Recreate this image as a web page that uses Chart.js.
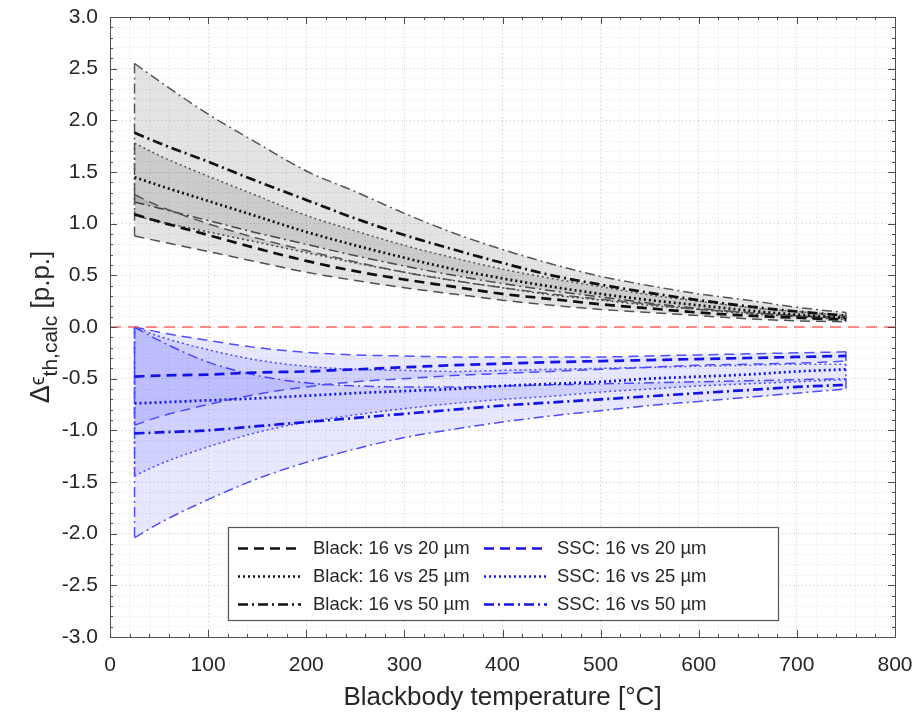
<!DOCTYPE html>
<html><head><meta charset="utf-8">
<script src="https://cdn.jsdelivr.net/npm/chart.js@4.4.1/dist/chart.umd.min.js"></script>
<style>html,body{margin:0;padding:0;background:#fff;}#wrap{width:921px;height:723px;}</style>
</head><body><div id="wrap"><canvas id="c" width="921" height="723"></canvas></div>
<script>
// ---- data ----
const temps = [25, 50, 100, 150, 200, 250, 300, 350, 400, 450, 500, 550, 600, 650, 700, 750];

const black20Mean  = [1.09, 1.02, 0.89, 0.76, 0.64, 0.54, 0.46, 0.39, 0.32, 0.27, 0.22, 0.18, 0.14, 0.11, 0.09, 0.07];
const black20Upper = [1.28, 1.17, 1.00, 0.86, 0.74, 0.63, 0.53, 0.45, 0.38, 0.32, 0.27, 0.22, 0.17, 0.14, 0.11, 0.09];
const black20Lower = [0.88, 0.83, 0.73, 0.63, 0.53, 0.45, 0.38, 0.32, 0.26, 0.21, 0.17, 0.14, 0.11, 0.08, 0.06, 0.05];

const black25Mean  = [1.45, 1.37, 1.22, 1.07, 0.92, 0.79, 0.67, 0.56, 0.47, 0.39, 0.32, 0.26, 0.21, 0.16, 0.12, 0.09];
const black25Upper = [1.78, 1.66, 1.46, 1.27, 1.08, 0.93, 0.79, 0.67, 0.56, 0.47, 0.39, 0.31, 0.25, 0.19, 0.15, 0.11];
const black25Lower = [1.08, 1.02, 0.92, 0.82, 0.72, 0.62, 0.53, 0.45, 0.38, 0.31, 0.26, 0.21, 0.17, 0.13, 0.10, 0.07];

const black50Mean  = [1.88, 1.78, 1.60, 1.41, 1.23, 1.05, 0.89, 0.75, 0.62, 0.50, 0.41, 0.33, 0.26, 0.20, 0.15, 0.11];
const black50Upper = [2.55, 2.38, 2.06, 1.78, 1.51, 1.31, 1.10, 0.91, 0.75, 0.61, 0.49, 0.40, 0.32, 0.26, 0.19, 0.14];
const black50Lower = [1.21, 1.15, 1.03, 0.91, 0.80, 0.69, 0.59, 0.50, 0.42, 0.35, 0.29, 0.23, 0.18, 0.14, 0.11, 0.08];

const ssc20Mean  = [-0.48, -0.47, -0.46, -0.44, -0.43, -0.41, -0.39, -0.37, -0.355, -0.34, -0.33, -0.32, -0.31, -0.30, -0.29, -0.28];
const ssc20Upper = [0.00, -0.05, -0.13, -0.20, -0.245, -0.27, -0.28, -0.29, -0.29, -0.29, -0.29, -0.28, -0.27, -0.26, -0.25, -0.24];
const ssc20Lower = [-0.95, -0.87, -0.75, -0.65, -0.58, -0.53, -0.50, -0.47, -0.45, -0.43, -0.41, -0.39, -0.37, -0.36, -0.35, -0.33];

const ssc25Mean  = [-0.74, -0.73, -0.71, -0.69, -0.665, -0.64, -0.62, -0.60, -0.57, -0.55, -0.53, -0.50, -0.48, -0.46, -0.43, -0.41];
const ssc25Upper = [0.00, -0.09, -0.22, -0.32, -0.38, -0.41, -0.42, -0.43, -0.42, -0.41, -0.40, -0.39, -0.38, -0.37, -0.36, -0.36];
const ssc25Lower = [-1.44, -1.33, -1.16, -1.02, -0.92, -0.85, -0.79, -0.74, -0.70, -0.67, -0.63, -0.60, -0.57, -0.55, -0.53, -0.51];

const ssc50Mean  = [-1.03, -1.02, -1.00, -0.96, -0.92, -0.88, -0.84, -0.80, -0.76, -0.73, -0.70, -0.67, -0.64, -0.61, -0.58, -0.56];
const ssc50Upper = [0.00, -0.13, -0.34, -0.47, -0.54, -0.57, -0.58, -0.58, -0.57, -0.56, -0.55, -0.54, -0.53, -0.52, -0.51, -0.50];
const ssc50Lower = [-2.04, -1.90, -1.67, -1.47, -1.31, -1.18, -1.07, -0.99, -0.92, -0.86, -0.81, -0.76, -0.72, -0.68, -0.64, -0.60];

const xRange = [0, 800];
const yRange = [-3, 3];
const xMajorStep = 100, xMinorStep = 20;
const yMajorStep = 0.5, yMinorStep = 0.1;
const referenceLine = [0, 0];

const legendLabels = ['Black: 16 vs 20 µm', 'Black: 16 vs 25 µm', 'Black: 16 vs 50 µm',
                      'SSC: 16 vs 20 µm', 'SSC: 16 vs 25 µm', 'SSC: 16 vs 50 µm'];
const xTitle = 'Blackbody temperature [°C]';

// ---- styles ----
const DASH = [10, 6], DOT = [2, 3], DASHDOT = [10, 4, 2, 4];
const FONT = '"Liberation Sans", Arial, sans-serif';
const BLACK_C = '#111111', BLACK_B = '#555555', BLACK_F = 'rgba(0,0,0,0.11)';
const BLUE_C = '#1414e6', BLUE_B = '#4f4fff', BLUE_F = 'rgba(30,30,255,0.105)';

const pts = arr => temps.map((t, i) => ({x: t, y: arr[i]}));
function centerDs(label, arr, color, dash) {
  return {label, data: pts(arr), borderColor: color, borderWidth: 2.7, borderDash: dash,
          pointRadius: 0, fill: false, cubicInterpolationMode: 'monotone'};
}
function bandDs(up, lo, color, fillColor, dash) {
  const n = temps.length - 1;
  return [
    {label: 'edge', data: [{x: temps[0], y: up[0]}, {x: temps[0], y: lo[0]}, {x: temps[n], y: null},
                         {x: temps[n], y: up[n]}, {x: temps[n], y: lo[n]}],
     borderColor: color, borderWidth: 1.5, borderDash: dash, pointRadius: 0, fill: false, spanGaps: false},
    {label: 'upper', data: pts(up), borderColor: color, borderWidth: 1.5, borderDash: dash, pointRadius: 0,
     fill: '+1', backgroundColor: fillColor, cubicInterpolationMode: 'monotone'},
    {label: 'lower', data: pts(lo), borderColor: color, borderWidth: 1.5, borderDash: dash, pointRadius: 0,
     fill: false, cubicInterpolationMode: 'monotone'}
  ];
}

const centers = [
  centerDs(legendLabels[0], black20Mean, BLACK_C, DASH),
  centerDs(legendLabels[1], black25Mean, BLACK_C, DOT),
  centerDs(legendLabels[2], black50Mean, BLACK_C, DASHDOT),
  centerDs(legendLabels[3], ssc20Mean, BLUE_C, DASH),
  centerDs(legendLabels[4], ssc25Mean, BLUE_C, DOT),
  centerDs(legendLabels[5], ssc50Mean, BLUE_C, DASHDOT)
];

const datasets = [
  {label: 'zero', data: [{x: xRange[0], y: referenceLine[0]}, {x: xRange[1], y: referenceLine[1]}],
   borderColor: 'rgba(255,80,80,0.85)', borderWidth: 1.5, borderDash: [11, 7], pointRadius: 0, fill: false},
  ...centers,
  ...bandDs(black20Upper, black20Lower, BLACK_B, BLACK_F, DASH),
  ...bandDs(black25Upper, black25Lower, BLACK_B, BLACK_F, DOT),
  ...bandDs(black50Upper, black50Lower, BLACK_B, BLACK_F, DASHDOT),
  ...bandDs(ssc20Upper, ssc20Lower, BLUE_B, BLUE_F, DASH),
  ...bandDs(ssc25Upper, ssc25Lower, BLUE_B, BLUE_F, DOT),
  ...bandDs(ssc50Upper, ssc50Lower, BLUE_B, BLUE_F, DASHDOT)
];

const isMult = (v, s) => Math.abs(v / s - Math.round(v / s)) < 1e-6;

// frame + inward ticks
const framePlugin = {
  id: 'frame',
  afterDatasetsDraw(chart) {
    const {ctx, chartArea: a, scales: {x, y}} = chart;
    ctx.save();
    ctx.setLineDash([]);
    ctx.strokeStyle = '#4d4d4d';
    ctx.lineWidth = 1;
    ctx.beginPath();
    x.ticks.forEach(t => {
      const px = Math.round(x.getPixelForValue(t.value)) + 0.5;
      const L = isMult(t.value, xMajorStep) ? 7 : 3;
      ctx.moveTo(px, a.bottom); ctx.lineTo(px, a.bottom - L);
      ctx.moveTo(px, a.top); ctx.lineTo(px, a.top + L);
    });
    y.ticks.forEach(t => {
      const py = Math.round(y.getPixelForValue(t.value)) + 0.5;
      const L = isMult(t.value, yMajorStep) ? 7 : 3;
      ctx.moveTo(a.left, py); ctx.lineTo(a.left + L, py);
      ctx.moveTo(a.right, py); ctx.lineTo(a.right - L, py);
    });
    ctx.stroke();
    ctx.strokeRect(Math.round(a.left) + 0.5, Math.round(a.top) + 0.5,
                   Math.round(a.right - a.left), Math.round(a.bottom - a.top));
    ctx.restore();
  }
};

// legend box and y-axis title
const overlayPlugin = {
  id: 'overlay',
  afterDraw(chart) {
    const {ctx, chartArea: a} = chart;
    ctx.save();
    // legend
    const bx = a.left + 118, by = a.top + 510, bw = 550, bh = 93;
    ctx.fillStyle = '#ffffff';
    ctx.fillRect(bx, by, bw, bh);
    ctx.setLineDash([]);
    ctx.strokeStyle = '#555555';
    ctx.lineWidth = 1.2;
    ctx.strokeRect(bx + 0.5, by + 0.5, bw, bh);
    ctx.font = '18.5px ' + FONT;
    ctx.fillStyle = '#262626';
    ctx.textBaseline = 'middle';
    ctx.textAlign = 'left';
    const cols = [{sx: bx + 10, tx: bx + 85}, {sx: bx + 256, tx: bx + 329}];
    centers.forEach((d, i) => {
      const c = cols[Math.floor(i / 3)];
      const ry = by + 21 + (i % 3) * 28;
      ctx.save();
      ctx.strokeStyle = d.borderColor;
      ctx.lineWidth = 2.4;
      ctx.setLineDash(d.borderDash);
      ctx.beginPath();
      ctx.moveTo(c.sx, ry + 0.5); ctx.lineTo(c.sx + 63, ry + 0.5);
      ctx.stroke();
      ctx.restore();
      ctx.fillText(d.label, c.tx, ry + 1);
    });
    // y title with subscript
    ctx.translate(41, (a.top + a.bottom) / 2);
    ctx.rotate(-Math.PI / 2);
    const parts = [
      {t: 'Δ', f: '27px ' + FONT, dy: 0},
      {t: 'ϵ', f: '20px ' + FONT, dy: -5},
      {t: 'th,calc', f: '21px ' + FONT, dy: 8},
      {t: ' [p.p.]', f: '26px ' + FONT, dy: 0}
    ];
    let total = 0;
    parts.forEach(p => { ctx.font = p.f; p.w = ctx.measureText(p.t).width; total += p.w; });
    let cx = -total / 2;
    ctx.fillStyle = '#262626';
    ctx.textBaseline = 'alphabetic';
    parts.forEach(p => { ctx.font = p.f; ctx.fillText(p.t, cx, 8 + p.dy); cx += p.w; });
    ctx.restore();
  }
};

new Chart(document.getElementById('c'), {
  type: 'line',
  data: {datasets},
  options: {
    responsive: false,
    animation: false,
    devicePixelRatio: 1,
    layout: {padding: {left: 0, top: 17, right: 26, bottom: 0}},
    plugins: {legend: {display: false}, tooltip: {enabled: false}},
    elements: {line: {borderCapStyle: 'butt'}},
    scales: {
      x: {
        type: 'linear', min: xRange[0], max: xRange[1],
        afterFit: s => { s.height = 86; s.paddingLeft = 0; s.paddingRight = 0; },
        border: {display: false, dash: [1, 3]},
        grid: {drawTicks: false, lineWidth: 1,
               color: c => isMult(c.tick.value, xMajorStep) ? 'rgba(150,150,150,0.55)' : 'rgba(170,170,170,0.35)'},
        ticks: {stepSize: xMinorStep, autoSkip: false, maxRotation: 0, padding: 16, color: '#262626',
                font: {family: FONT, size: 21},
                callback: v => isMult(v, xMajorStep) ? String(Math.round(v)) : ''},
        title: {display: true, text: xTitle, color: '#262626', font: {family: FONT, size: 26},
                padding: {top: 2, bottom: 10}}
      },
      y: {
        type: 'linear', min: yRange[0], max: yRange[1],
        afterFit: s => { s.width = 110; s.paddingTop = 0; s.paddingBottom = 0; },
        border: {display: false, dash: [1, 3]},
        grid: {drawTicks: false, lineWidth: 1,
               color: c => isMult(c.tick.value, yMajorStep) ? 'rgba(150,150,150,0.55)' : 'rgba(170,170,170,0.35)'},
        ticks: {stepSize: yMinorStep, autoSkip: false, padding: 12, color: '#262626',
                font: {family: FONT, size: 21},
                callback: v => isMult(v, yMajorStep) ? (Math.round(v * 10) / 10).toFixed(1) : ''}
      }
    }
  },
  plugins: [framePlugin, overlayPlugin]
});
</script></body></html>
